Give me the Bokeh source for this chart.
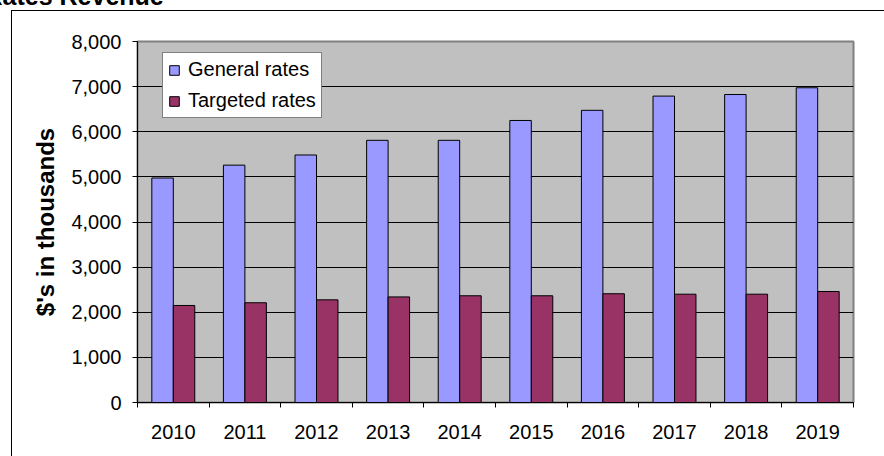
from bokeh.plotting import figure
from bokeh.models import (Range1d, LinearAxis, FixedTicker,
                          NumeralTickFormatter, Legend, LegendItem, Label,
                          ColumnDataSource, Grid)
from bokeh.transform import dodge
from bokeh.embed import file_html
from bokeh.resources import INLINE

# ---- data ----
years = ["2010", "2011", "2012", "2013", "2014", "2015", "2016", "2017", "2018", "2019"]
general_rates = [4975, 5260, 5485, 5810, 5810, 6250, 6475, 6790, 6825, 6975]
targeted_rates = [2150, 2210, 2275, 2340, 2365, 2365, 2410, 2400, 2400, 2460]
y_ticks = [0, 1000, 2000, 3000, 4000, 5000, 6000, 7000, 8000]
chart_title = "Rates Revenue"
y_title = "$'s in thousands"
series_names = ["General rates", "Targeted rates"]

FONT = "Liberation Sans"

n = len(years)
slot_centres = [i + 0.5 for i in range(n)]
slot_edges = list(range(n + 1))

src = ColumnDataSource(dict(pos=slot_centres, year=years,
                            general=general_rates, targeted=targeted_rates))

p = figure(width=884, height=456,
           x_range=Range1d(0, n),
           y_range=Range1d(0, 8000),
           output_backend="svg", toolbar_location=None,
           x_axis_location=None, y_axis_location=None,
           min_border_left=137, min_border_right=31, min_border_top=41, min_border_bottom=54,
           background_fill_color="#C0C0C0", border_fill_color=None,
           outline_line_color="#808080", outline_line_width=2,
           # outer chart border (its right/bottom edges lie beyond the picture)
           styles={"background-color": "white",
                   "box-shadow": "inset 11px 10px 0 0 white, inset 12px 11px 0 0 black"})

# remove any default grids
p.center = [r for r in p.center if not isinstance(r, Grid)]

# y axis
yaxis = LinearAxis(ticker=FixedTicker(ticks=y_ticks),
                   formatter=NumeralTickFormatter(format="0,0"),
                   axis_label=y_title,
                   axis_label_text_font=FONT, axis_label_text_font_size="24px",
                   axis_label_text_font_style="bold", axis_label_text_color="black",
                   axis_label_standoff=9,
                   major_label_text_font=FONT, major_label_text_font_size="20px",
                   major_label_text_color="black", major_label_standoff=11,
                   major_tick_out=5, major_tick_in=0, minor_tick_out=0, minor_tick_in=0,
                   axis_line_color="black", major_tick_line_color="black")
p.add_layout(yaxis, "left")
p.add_layout(Grid(dimension=1, ticker=yaxis.ticker, grid_line_color="black", grid_line_width=1))

# x axis: ticks between categories, labels at category centres
tick_axis = LinearAxis(ticker=FixedTicker(ticks=slot_edges),
                       major_label_text_color=None, major_label_text_font_size="1px",
                       major_label_standoff=0,
                       major_tick_out=5, major_tick_in=0, minor_tick_out=0, minor_tick_in=0,
                       axis_line_color="black", major_tick_line_color="black")
p.add_layout(tick_axis, "below")
label_axis = LinearAxis(ticker=FixedTicker(ticks=slot_centres),
                        major_label_overrides={c: y for c, y in zip(slot_centres, years)},
                        axis_line_color=None, major_tick_line_color=None,
                        minor_tick_line_color=None,
                        major_label_text_font=FONT, major_label_text_font_size="20px",
                        major_label_text_color="black", major_label_standoff=11)
p.add_layout(label_axis, "below")

r1 = p.vbar(x=dodge("pos", -0.15), top="general", width=0.3, source=src,
            fill_color="#9999FF", line_color="black", line_width=1)
r2 = p.vbar(x=dodge("pos", 0.15), top="targeted", width=0.3, source=src,
            fill_color="#993366", line_color="black", line_width=1)

legend = Legend(items=[LegendItem(label=series_names[0], renderers=[r1]),
                       LegendItem(label=series_names[1], renderers=[r2])],
                location=(25, 284), orientation="vertical",
                background_fill_color="white", background_fill_alpha=1,
                border_line_color="black", border_line_width=1,
                label_text_font=FONT, label_text_font_size="20px", label_text_color="black",
                glyph_width=12, glyph_height=12, label_height=22, label_standoff=8,
                spacing=8, padding=5, margin=0)
p.add_layout(legend)

# title: only its lower part shows at the top edge of the picture
p.add_layout(Label(x=-16, y=-5, x_units="canvas", y_units="canvas", text=chart_title,
                   text_font=FONT, text_font_size="25px", text_font_style="bold",
                   text_color="black", text_baseline="alphabetic"), "above")

open("out.html", "w").write(file_html(p, INLINE))
